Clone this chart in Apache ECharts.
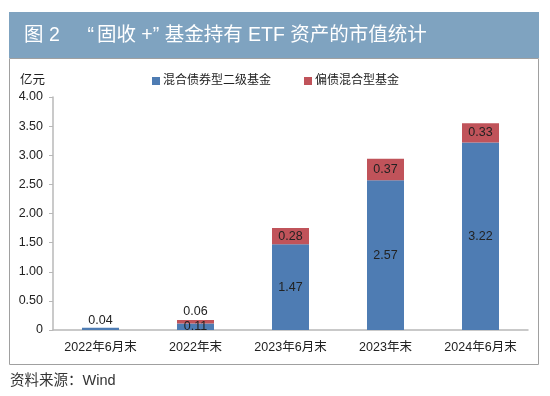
<!DOCTYPE html>
<html>
<head>
<meta charset="utf-8">
<script src="https://cdn.jsdelivr.net/npm/echarts@6/dist/echarts.min.js"></script>
<style>
  html, body { margin: 0; padding: 0; background: #fff; }
  #chart { width: 550px; height: 396px; }
</style>
</head>
<body>
<div id="chart"></div>
<script>
// 数据
var categories = ['2022年6月末', '2022年末', '2023年6月末', '2023年末', '2024年6月末']
var mixedBondII = [0.04, 0.11, 1.47, 2.57, 3.22]   // 混合债券型二级基金
var bondMixed = [0, 0.06, 0.28, 0.37, 0.33]        // 偏债混合型基金
var seriesNames = ['混合债券型二级基金', '偏债混合型基金']
var yTicks = [0, 0.5, 1, 1.5, 2, 2.5, 3, 3.5, 4]

var FONT = '"Liberation Sans", "Noto Sans CJK SC", sans-serif'

var chart = echarts.init(document.getElementById('chart'))

var blueData = mixedBondII.map(function (v, i) {
  // 太小的柱子标签放到上面
  if (i === 0) {
    return { value: v, label: { position: 'top', distance: 1 } }
  }
  return v
})
var redData = bondMixed.map(function (v, i) {
  if (v === 0) {
    return { value: v, label: { show: false } }
  }
  if (i === 1) {
    return { value: v, label: { position: 'top', distance: 2 } }
  }
  return v
})

chart.setOption({
  animation: false,
  textStyle: { fontFamily: FONT },
  title: {
    text: '图 2    {ql|“}固收 +” 基金持有 ETF 资产的市值统计',
    left: 24,
    top: 26,
    padding: 0,
    textStyle: {
      color: '#fff', fontSize: 19.5, fontWeight: 'normal', fontFamily: FONT,
      rich: {
        ql: { color: '#fff', fontSize: 19.5, fontFamily: FONT, padding: [0, 3, 0, 6] }
      }
    }
  },
  legend: {
    data: seriesNames,
    left: 152,
    top: 75,
    padding: 0,
    icon: 'rect',
    itemWidth: 8,
    itemHeight: 8,
    itemGap: 33,
    textStyle: { fontSize: 12, color: '#222', padding: [0, 0, 0, -2] }
  },
  grid: {
    left: 53,
    right: 22,
    top: 97,
    bottom: 66
  },
  xAxis: {
    type: 'category',
    data: categories,
    axisLine: { lineStyle: { color: '#b8b8b8', width: 1.5 } },
    axisTick: { show: false },
    axisLabel: { color: '#222', fontSize: 12.5, margin: 11 }
  },
  yAxis: {
    type: 'value',
    min: 0,
    max: 4,
    interval: 0.5,
    axisLine: { show: true, lineStyle: { color: '#b8b8b8', width: 1.5 } },
    axisTick: { show: true, length: 4, lineStyle: { color: '#b8b8b8' } },
    splitLine: { show: false },
    axisLabel: {
      color: '#222',
      fontSize: 12.5,
      margin: 10,
      formatter: function (v) {
        return yTicks.indexOf(v) >= 0 && v !== 0 ? v.toFixed(2) : String(v)
      }
    }
  },
  graphic: [
    {
      type: 'rect',
      shape: { x: 9.5, y: 58.5, width: 529, height: 306 },
      style: { fill: 'none', stroke: '#a0a0a0', lineWidth: 1 },
      z: -1
    },
    {
      type: 'rect',
      shape: { x: 9, y: 12, width: 530, height: 46 },
      style: { fill: '#7fa3c0' },
      z: -1
    },
    {
      type: 'text',
      left: 20,
      top: 74,
      style: { text: '亿元', fontSize: 12.5, fill: '#222', fontFamily: FONT }
    },
    {
      type: 'text',
      left: 10,
      top: 374,
      style: { text: '资料来源：Wind', fontSize: 14.5, fill: '#333', fontFamily: FONT }
    }
  ],
  series: [
    {
      name: seriesNames[0],
      type: 'bar',
      stack: 'total',
      barWidth: 37,
      data: blueData,
      itemStyle: { color: '#4e7cb3' },
      label: { show: true, position: 'inside', color: '#222', fontSize: 12.5 }
    },
    {
      name: seriesNames[1],
      type: 'bar',
      stack: 'total',
      barWidth: 37,
      data: redData,
      itemStyle: { color: '#c0535a' },
      label: { show: true, position: 'inside', color: '#222', fontSize: 12.5 }
    }
  ]
})
</script>
</body>
</html>
